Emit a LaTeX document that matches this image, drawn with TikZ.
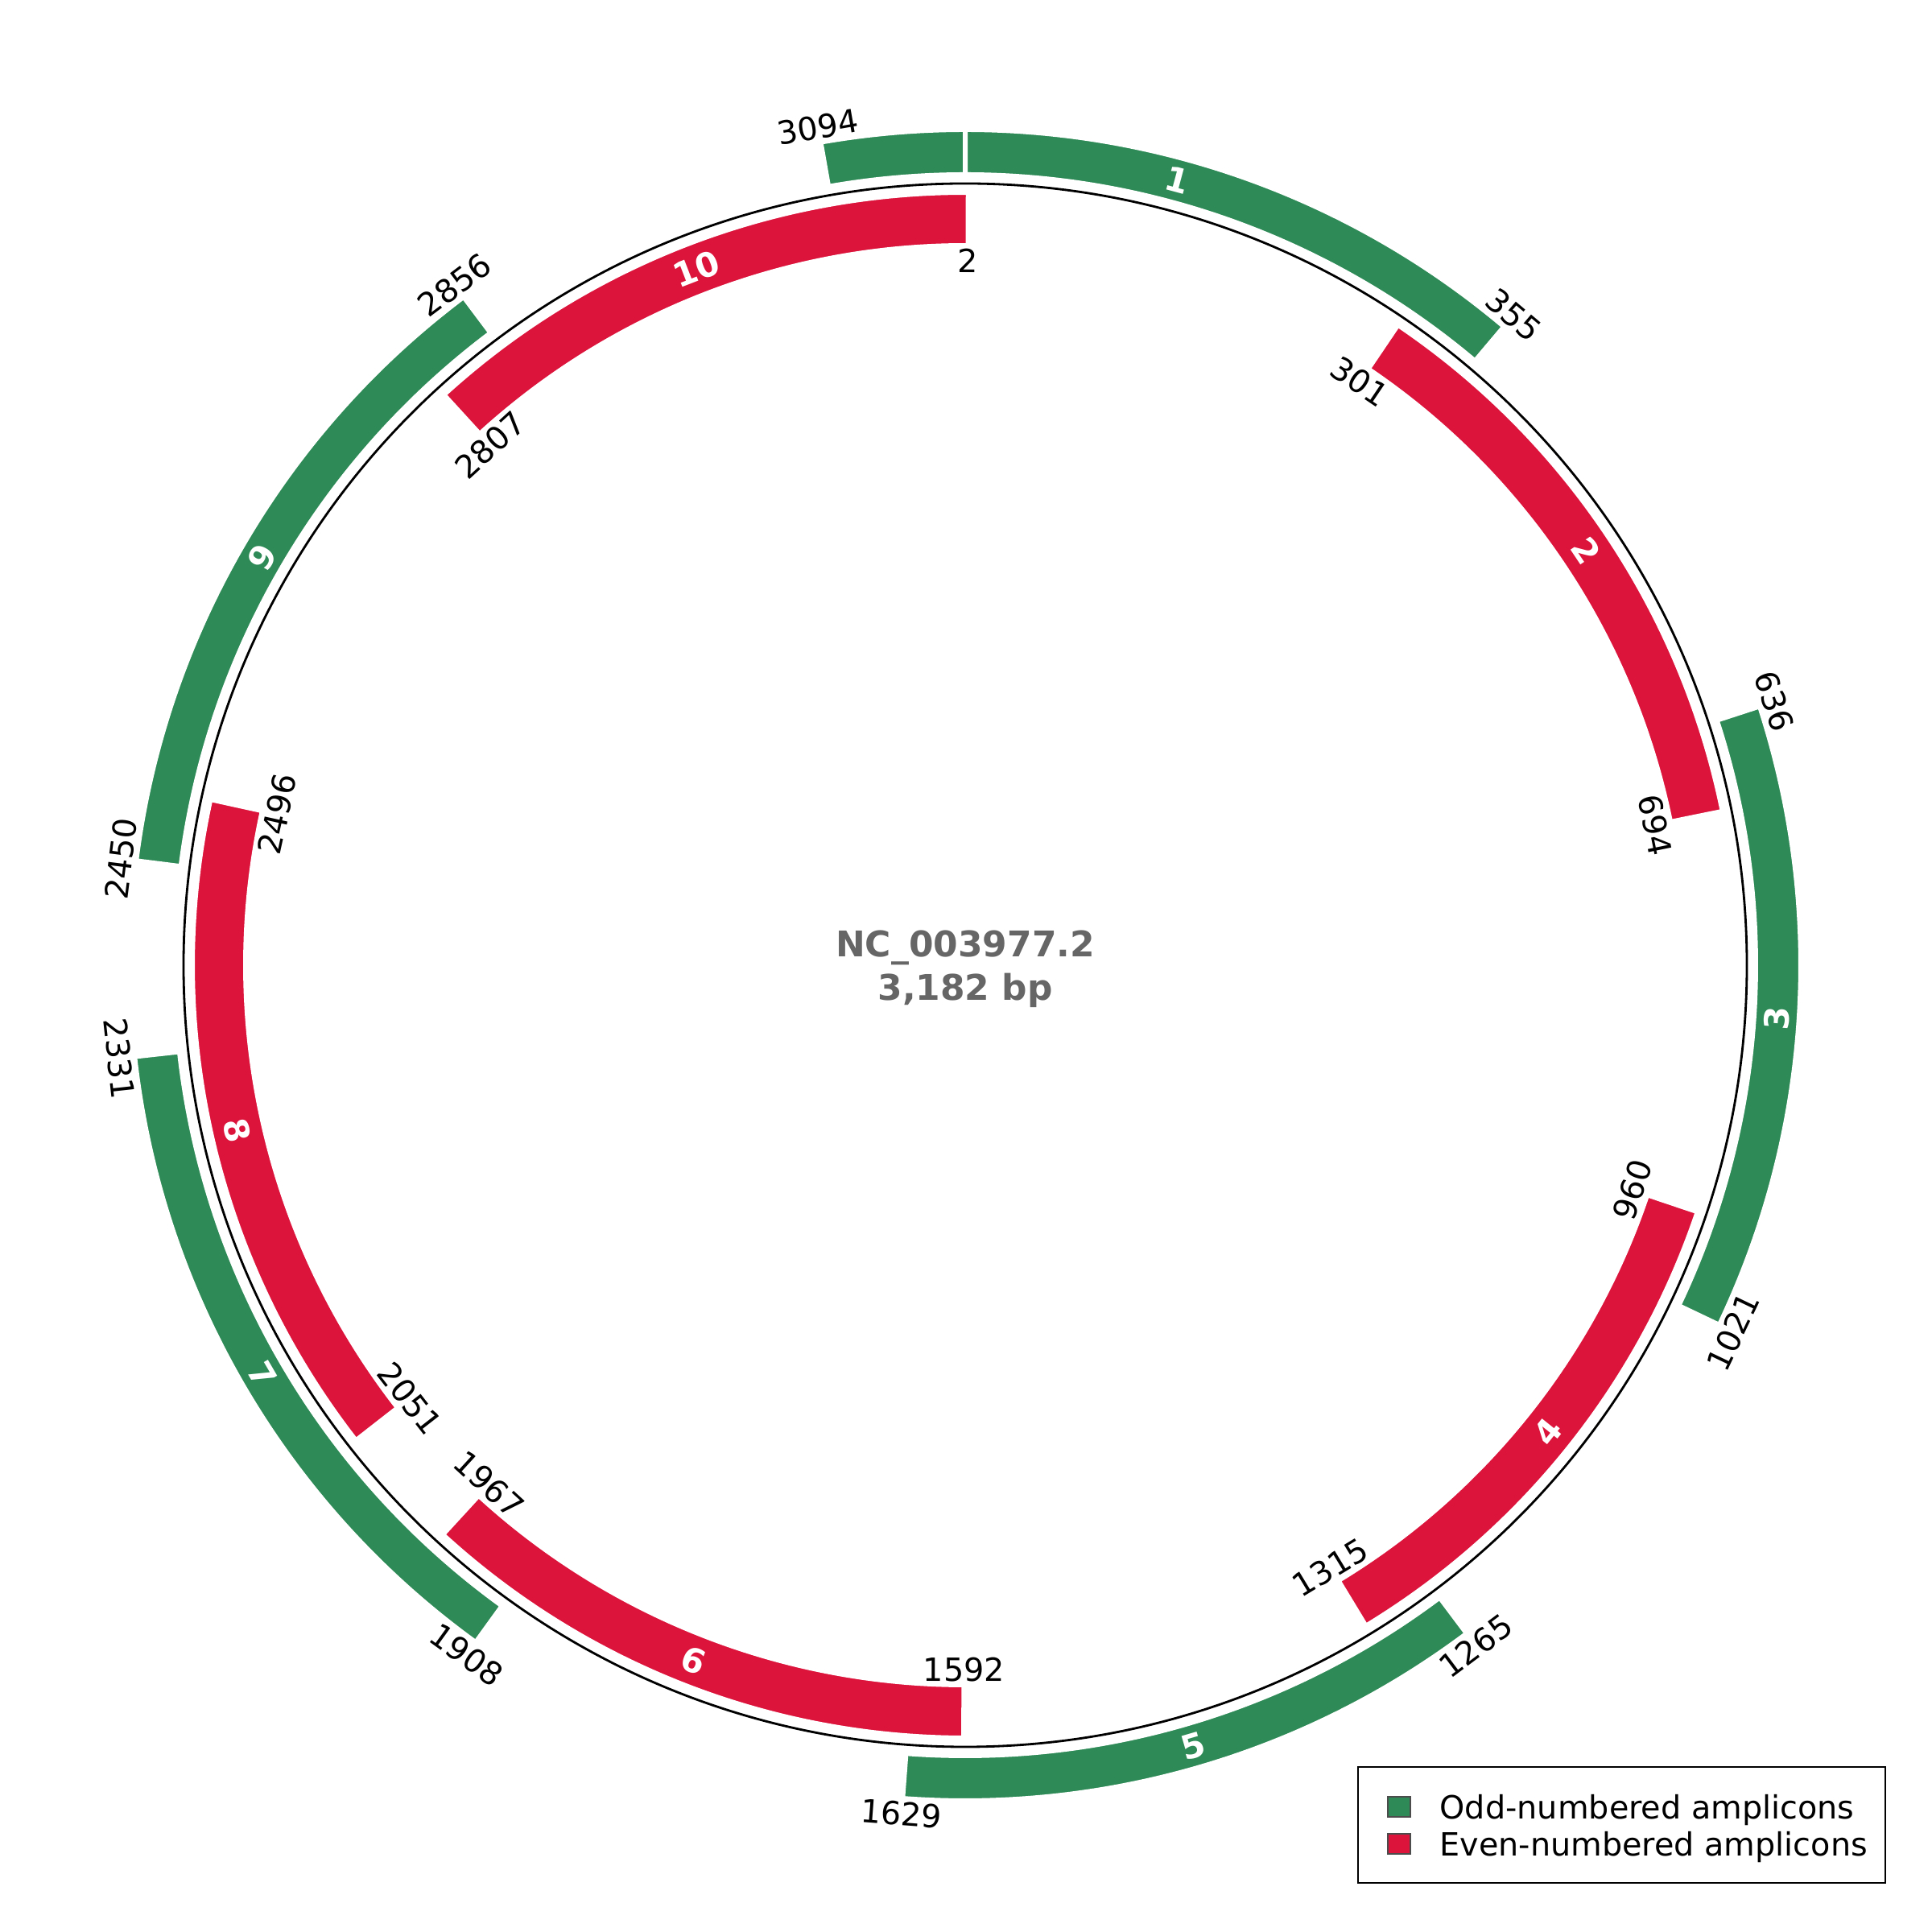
\documentclass[tikz,border=0pt]{standalone}
\usepackage{fontspec}
\setmainfont{DejaVu Sans}
\definecolor{oddc}{HTML}{2E8B57}
\definecolor{evenc}{HTML}{DC143C}
\definecolor{ctrc}{HTML}{666666}
\newcommand{\ampseg}[5]{%
  \pgfmathsetmacro\sgA{90-(#2/3182)*360}%
  \pgfmathsetmacro\sgB{90-(#3/3182)*360}%
  \filldraw[fill=#1, draw=white, line width=0.06cm, line join=miter] (\sgA:#5) arc[start angle=\sgA, end angle=\sgB, radius=#5]
     -- (\sgB:#4) arc[start angle=\sgB, end angle=\sgA, radius=#4] -- cycle;}
\newcommand{\poslab}[3]{%
  \pgfmathsetmacro\lbth{mod((#1/3182)*360,360)}%
  \pgfmathsetmacro\lbrot{(\lbth>90 && \lbth<270) ? 180-\lbth : -\lbth}%
  \pgfmathsetmacro\lbang{90-\lbth}%
  \node[poslabel, rotate=\lbrot] (#3) at (\lbang:#2) {#1};}
\newcommand{\numlab}[5]{%
  \pgfmathsetmacro\lbth{mod(((#1+#2)/6364)*360,360)}%
  \pgfmathsetmacro\lbrot{(\lbth>90 && \lbth<270) ? 180-\lbth : -\lbth}%
  \pgfmathsetmacro\lbang{90-\lbth}%
  \node[numlabel, rotate=\lbrot] (#5) at (\lbang:#3) {#4};}
\begin{document}
\begin{tikzpicture}[
  poslabel/.style={font=\fontsize{11.3}{13}\selectfont, inner sep=0pt, text height=0.29cm, text depth=0pt, text=black},
  numlabel/.style={font=\fontsize{11.9}{13}\selectfont\bfseries, inner sep=0pt, text height=0.306cm, text depth=0pt, text=white},
  legsq/.style={draw=black!70, line width=0.6pt, minimum width=0.28cm, minimum height=0.25cm, inner sep=0pt},
  legtext/.style={font=\fontsize{11.3}{13}\selectfont, inner sep=0pt, anchor=base west},
  ctrtext/.style={font=\fontsize{12.5}{14}\selectfont\bfseries, text=ctrc, inner sep=0pt, anchor=base}
]
\useasboundingbox (-11.99,-12.01) rectangle (12.01,11.99);
% odd amplicons (outer ring)
\ampseg{oddc}{3094}{3182}{9.82}{10.38}
\ampseg{oddc}{0}{355}{9.82}{10.38}
\ampseg{oddc}{636}{1021}{9.82}{10.38}
\ampseg{oddc}{1265}{1629}{9.82}{10.38}
\ampseg{oddc}{1908}{2331}{9.82}{10.38}
\ampseg{oddc}{2450}{2856}{9.82}{10.38}
% even amplicons (inner ring)
\ampseg{evenc}{301}{694}{8.94}{9.60}
\ampseg{evenc}{960}{1315}{8.94}{9.60}
\ampseg{evenc}{1592}{1967}{8.94}{9.60}
\ampseg{evenc}{2051}{2496}{8.94}{9.60}
\ampseg{evenc}{2807}{3184}{8.94}{9.60}
% central circle
\draw[line width=0.8pt] (0,0) circle[radius=9.71];
% amplicon numbers
\numlab{3094}{3537}{10.10}{1}{n1}
\numlab{301}{694}{9.27}{2}{n2}
\numlab{636}{1021}{10.10}{3}{n3}
\numlab{960}{1315}{9.27}{4}{n4}
\numlab{1265}{1629}{10.10}{5}{n5}
\numlab{1592}{1967}{9.27}{6}{n6}
\numlab{1908}{2331}{10.10}{7}{n7}
\numlab{2051}{2496}{9.27}{8}{n8}
\numlab{2450}{2856}{10.10}{9}{n9}
\numlab{2807}{3184}{9.27}{10}{n10}
% position labels, outer
\poslab{3094}{10.57}{g3094}
\poslab{355}{10.57}{g355}
\poslab{636}{10.57}{g636}
\poslab{1021}{10.57}{g1021}
\poslab{1265}{10.57}{g1265}
\poslab{1629}{10.57}{g1629}
\poslab{1908}{10.57}{g1908}
\poslab{2331}{10.57}{g2331}
\poslab{2450}{10.57}{g2450}
\poslab{2856}{10.57}{g2856}
% position labels, inner
\poslab{2}{8.75}{r2}
\poslab{301}{8.75}{r301}
\poslab{694}{8.75}{r694}
\poslab{960}{8.75}{r960}
\poslab{1315}{8.75}{r1315}
\poslab{1592}{8.75}{r1592}
\poslab{1967}{8.75}{r1967}
\poslab{2051}{8.75}{r2051}
\poslab{2496}{8.75}{r2496}
\poslab{2807}{8.75}{r2807}
% centre text
\node[ctrtext] (acc) at (0,0.10) {NC\_003977.2};
\node[ctrtext] (len) at (0,-0.44) {3,182 bp};
% legend
\draw[line width=0.6pt] (4.88,-9.96) rectangle (11.43,-11.40);
\node[legsq, fill=oddc] (sqodd) at (5.39,-10.455) {};
\node[legsq, fill=evenc] (sqeven) at (5.39,-10.915) {};
\node[legtext] (todd) at (5.89,-10.60) {Odd-numbered amplicons};
\node[legtext] (teven) at (5.89,-11.06) {Even-numbered amplicons};
\end{tikzpicture}
\end{document}
